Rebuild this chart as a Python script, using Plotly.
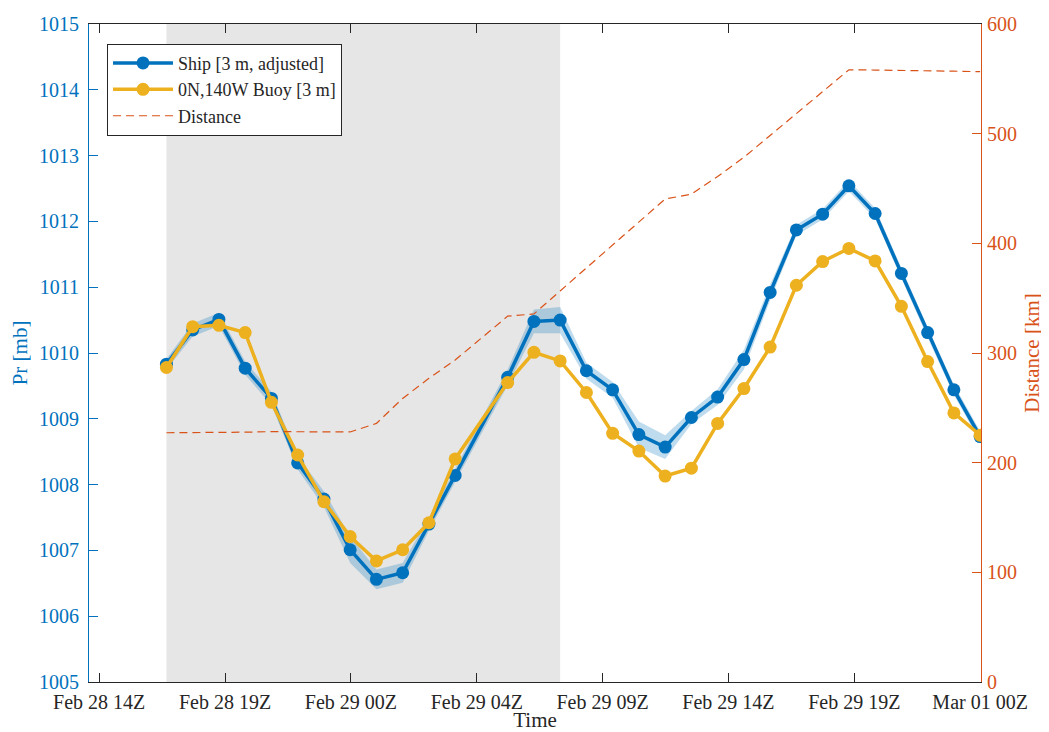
import numpy as np
import pandas as pd
import plotly.graph_objects as go

# ---------------- data ----------------
times = [
    "2024-02-28 17:00", "2024-02-28 18:00", "2024-02-28 19:00", "2024-02-28 20:00",
    "2024-02-28 21:00", "2024-02-28 22:00", "2024-02-28 23:00", "2024-02-29 00:00",
    "2024-02-29 01:00", "2024-02-29 02:00", "2024-02-29 03:00", "2024-02-29 04:00",
    "2024-02-29 06:00", "2024-02-29 07:00", "2024-02-29 08:00", "2024-02-29 09:00",
    "2024-02-29 10:00", "2024-02-29 11:00", "2024-02-29 12:00", "2024-02-29 13:00",
    "2024-02-29 14:00", "2024-02-29 15:00", "2024-02-29 16:00", "2024-02-29 17:00",
    "2024-02-29 18:00", "2024-02-29 19:00", "2024-02-29 20:00", "2024-02-29 21:00",
    "2024-02-29 22:00", "2024-02-29 23:00", "2024-03-01 00:00",
]

ship_pr = [1009.83, 1010.35, 1010.51, 1009.77, 1009.31, 1008.33, 1007.78, 1007.01,
           1006.56, 1006.66, 1007.40, 1008.14, 1009.63, 1010.48, 1010.50, 1009.73,
           1009.44, 1008.76, 1008.57, 1009.02, 1009.33, 1009.90, 1010.92, 1011.87,
           1012.11, 1012.54, 1012.12, 1011.21, 1010.31, 1009.44, 1008.73]

ship_err = [0.08, 0.10, 0.10, 0.10, 0.10, 0.10, 0.12, 0.20,
            0.15, 0.15, 0.10, 0.10, 0.12, 0.18, 0.20, 0.12,
            0.12, 0.20, 0.18, 0.10, 0.12, 0.15, 0.12, 0.08,
            0.08, 0.08, 0.08, 0.08, 0.08, 0.08, 0.08]

buoy_pr = [1009.78, 1010.40, 1010.42, 1010.31, 1009.25, 1008.45, 1007.74, 1007.21,
           1006.84, 1007.01, 1007.42, 1008.39, 1009.55, 1010.01, 1009.88, 1009.40,
           1008.78, 1008.51, 1008.13, 1008.25, 1008.93, 1009.46, 1010.09, 1011.03,
           1011.39, 1011.59, 1011.40, 1010.71, 1009.87, 1009.09, 1008.75]

distance_km = [227.3, 227.3, 227.3, 227.8, 228.3, 228.3, 228.0, 228.0,
               235.8, 258.6, 276.9, 293.6, 333.6, 335.6, 356.6, 377.6,
               398.6, 419.5, 440.4, 444.8, 460.9, 478.4, 498.3, 518.2,
               538.2, 558.3, 558.0, 557.8, 557.5, 557.0, 556.5]

shade_start = "2024-02-28 17:00"
shade_end = "2024-02-29 08:00"

x_range = ["2024-02-28 14:03", "2024-03-01 00:02"]
tick_first = "2024-02-28 14:26:20"
tick_last = "2024-03-01 00:00:00"
tick_labels = ["Feb 28 14Z", "Feb 28 19Z", "Feb 29 00Z", "Feb 29 04Z",
               "Feb 29 09Z", "Feb 29 14Z", "Feb 29 19Z", "Mar 01 00Z"]

# ---------------- styles ----------------
BLUE = "#0072BD"
YELLOW = "#EDB120"
ORANGE = "#D95319"
DARK = "#262626"
FONT = "Liberation Serif"

t = pd.to_datetime(times)
t0 = pd.Timestamp(tick_first).value
t1 = pd.Timestamp(tick_last).value
tickvals = pd.to_datetime(np.linspace(t0, t1, len(tick_labels)).astype("int64"))

ship = np.array(ship_pr)
err = np.array(ship_err)
band_x = list(t) + list(t[::-1])
band_y = list(ship + err) + list((ship - err)[::-1])

fig = go.Figure()

fig.add_trace(go.Scatter(
    x=band_x, y=band_y, fill="toself", mode="lines",
    line=dict(width=0), fillcolor="rgba(0,114,189,0.25)",
    showlegend=False, hoverinfo="skip", yaxis="y"))

fig.add_trace(go.Scatter(
    x=t, y=ship_pr, mode="lines+markers", name="Ship [3 m, adjusted]",
    line=dict(color=BLUE, width=3.5), marker=dict(color=BLUE, size=13),
    yaxis="y", legendrank=1))

fig.add_trace(go.Scatter(
    x=t, y=buoy_pr, mode="lines+markers", name="0N,140W Buoy [3 m]",
    line=dict(color=YELLOW, width=3.5), marker=dict(color=YELLOW, size=13),
    yaxis="y", legendrank=2))

fig.add_trace(go.Scatter(
    x=t, y=distance_km, mode="lines", name="Distance",
    line=dict(color=ORANGE, width=1.2, dash="8px,5px"),
    yaxis="y2", legendrank=3))

fig.add_shape(type="rect", xref="x", yref="paper",
              x0=shade_start, x1=shade_end, y0=0, y1=1,
              fillcolor="#E6E6E6", line=dict(width=0), layer="below")

# page body has an 8px margin, so the figure is 16px smaller than the window
fig.update_layout(
    width=1041, height=724,
    margin=dict(l=81, r=68, t=16, b=50, autoexpand=False),
    paper_bgcolor="white", plot_bgcolor="white",
    font=dict(family=FONT, size=20, color=DARK),
    showlegend=True,
    legend=dict(x=0.0202, y=0.970, xanchor="left", yanchor="top",
                bgcolor="white", bordercolor=DARK, borderwidth=1,
                font=dict(family=FONT, size=18, color=DARK),
                itemwidth=60, tracegroupgap=0),
    xaxis=dict(type="date", range=x_range, tickvals=tickvals, ticktext=tick_labels,
               ticks="inside", ticklen=9, tickcolor=DARK, tickwidth=1,
               showline=True, linecolor=DARK, linewidth=1, mirror="ticks",
               showgrid=False, zeroline=False, automargin=False,
               ticklabelstandoff=2,
               tickfont=dict(family=FONT, size=20, color=DARK),
               title=dict(text="Time", font=dict(family=FONT, size=21, color=DARK),
                          standoff=4)),
    yaxis=dict(range=[1005, 1015], dtick=1, tickformat="d",
               ticks="inside", ticklen=9, tickcolor=BLUE, tickwidth=1,
               showline=True, linecolor=BLUE, linewidth=1,
               showgrid=False, zeroline=False, automargin=False,
               ticklabelstandoff=5,
               tickfont=dict(family=FONT, size=20, color=BLUE),
               title=dict(text="Pr [mb]", font=dict(family=FONT, size=21, color=BLUE),
                          standoff=5)),
    yaxis2=dict(range=[0, 600], dtick=100, overlaying="y", side="right",
                ticks="inside", ticklen=9, tickcolor=ORANGE, tickwidth=1,
                showline=True, linecolor=ORANGE, linewidth=1,
                showgrid=False, zeroline=False, automargin=False,
                ticklabelstandoff=1,
                tickfont=dict(family=FONT, size=20, color=ORANGE),
                title=dict(text="Distance [km]", font=dict(family=FONT, size=21, color=ORANGE),
                           standoff=8)),
)

fig.write_html("out.html")
